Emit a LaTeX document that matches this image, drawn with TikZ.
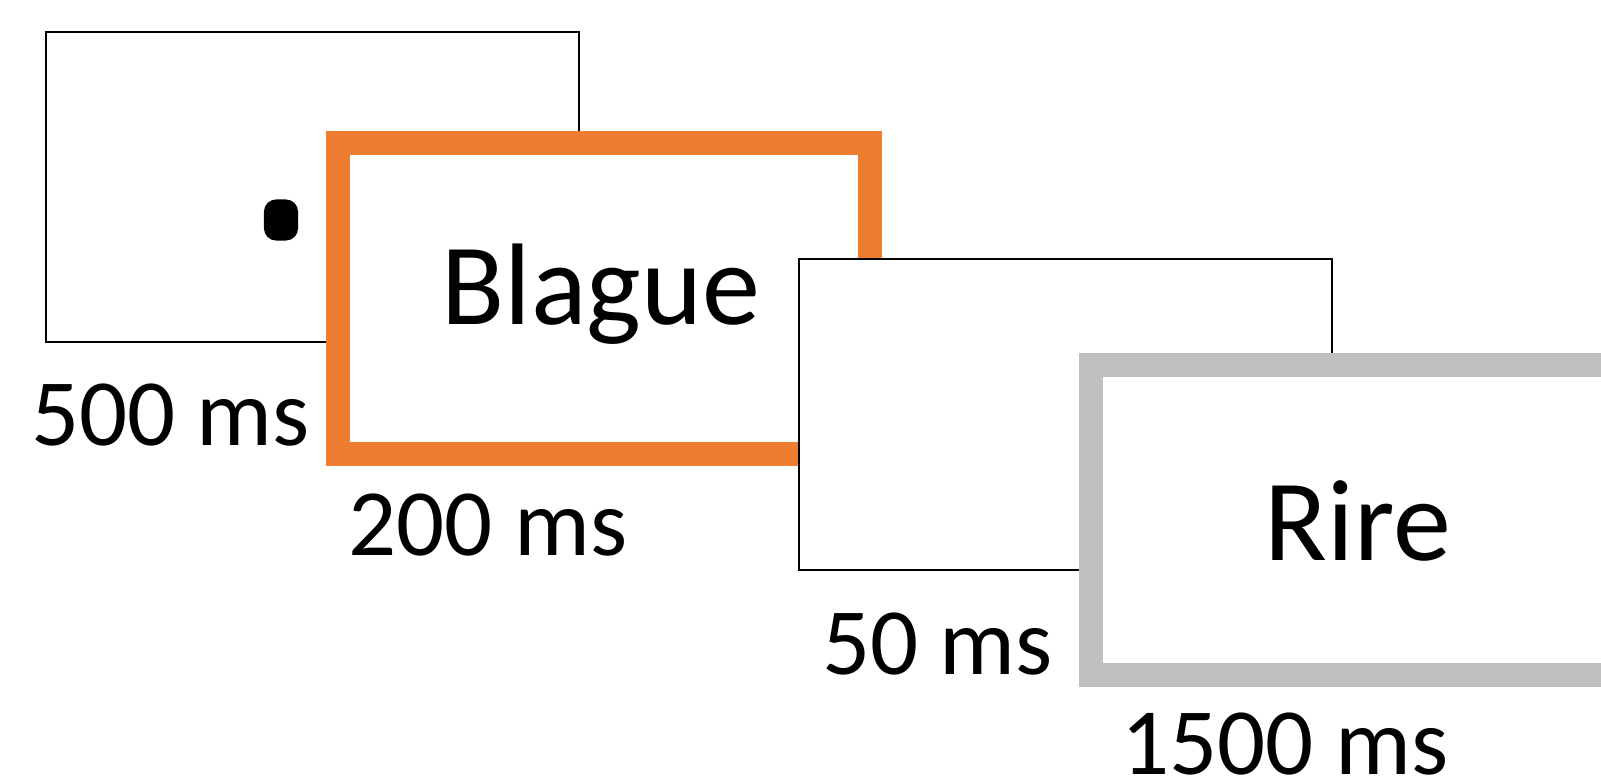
\documentclass[tikz,border=0pt]{standalone}
\usepackage{fontspec}
\setmainfont{Carlito}
\usetikzlibrary{positioning, calc}
\definecolor{stimorange}{HTML}{ED7D31}
\definecolor{stimgray}{HTML}{BFBFBF}
\tikzset{screen/.style={draw, fill=white, rectangle, inner sep=0, minimum width=5.32cm, minimum height=3.10cm, line width=0.02cm}}
\tikzset{framed/.style={screen, line width=0.24cm}}
\tikzset{durlabel/.style={font=\fontsize{27}{32}\selectfont, inner sep=0, anchor=base west}}
\tikzset{word/.style={font=\fontsize{33}{40}\selectfont, inner sep=0, anchor=base}}

\begin{document}
\begin{tikzpicture}[x=0.01cm, y=-0.01cm]
      \clip (0,0) rectangle (1601,783);

      % fixation
      \node[screen] (fix) at (312.5,187) {};
      \node[fill=black, rounded corners=0.12cm, minimum width=0.34cm, minimum height=0.41cm, inner sep=0] (dot) at (281,220) {};
      \node[durlabel] (t0) at ($(fix.south west)+(-15,102)$) {500 ms};

      % prime
      \node[framed, draw=stimorange] (prime) at (604,298.5) {};
      \node[word] (w0) at ($(prime.center)+(-3,26)$) {Blague};
      \node[durlabel] (t1) at ($(prime.south west)+(22,90)$) {200 ms};

      % blank
      \node[screen] (blank) at (1065.5,414.5) {};
      \node[durlabel] (t2) at ($(blank.south west)+(23,104)$) {50 ms};

      % target
      \node[framed, draw=stimgray] (target) at (1357,520) {};
      \node[word] (w1) at ($(target.center)+(1,41)$) {Rire};
      \node[durlabel] (t3) at ($(target.south west)+(42,87)$) {1500 ms};
    \end{tikzpicture}
\end{document}
